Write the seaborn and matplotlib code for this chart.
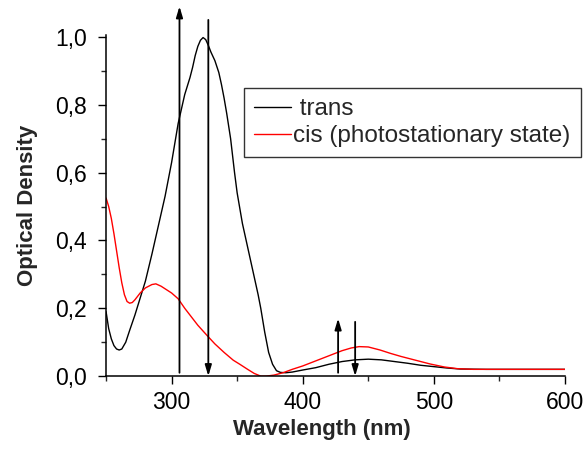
import matplotlib
matplotlib.use("Agg")
import matplotlib.pyplot as plt
import seaborn as sns
import pandas as pd
from matplotlib.ticker import MultipleLocator, FuncFormatter

trans_wl = [250, 252, 254, 256, 258, 260, 262, 265, 268, 272, 276, 280, 285, 290, 295, 300, 305,
            310, 314, 316, 318, 320, 322, 324, 326, 328, 330, 333, 336, 338, 340, 342, 345, 348,
            350, 354, 358, 362, 366, 368, 371, 374, 377, 380, 383, 387, 392, 400, 410, 420, 430,
            440, 450, 460, 470, 480, 490, 500, 510, 520, 540, 560, 580, 600]
trans_od = [0.19, 0.14, 0.11, 0.09, 0.08, 0.077, 0.08, 0.10, 0.135, 0.18, 0.23, 0.28, 0.36,
            0.445, 0.53, 0.63, 0.745, 0.83, 0.88, 0.91, 0.945, 0.972, 0.99, 0.998, 0.992,
            0.975, 0.955, 0.93, 0.895, 0.86, 0.82, 0.775, 0.70, 0.60, 0.54, 0.45, 0.38, 0.31,
            0.24, 0.2, 0.13, 0.07, 0.035, 0.016, 0.011, 0.01, 0.012, 0.018, 0.025, 0.035,
            0.043, 0.048, 0.05, 0.048, 0.043, 0.038, 0.032, 0.028, 0.024, 0.021, 0.02, 0.02,
            0.02, 0.02]

cis_wl = [250, 252, 254, 256, 258, 260, 262, 264, 266, 268, 270, 272, 276, 280, 285, 288, 292,
          296, 300, 305, 310, 315, 320, 327, 333, 340, 347, 352, 358, 363, 368, 372, 378, 385,
          392, 400, 410, 420, 430, 437, 443, 450, 459, 467, 475, 485, 497, 508, 518, 530, 560,
          600]
cis_od = [0.525, 0.5, 0.465, 0.42, 0.37, 0.32, 0.275, 0.24, 0.22, 0.215, 0.217, 0.225, 0.245,
          0.26, 0.27, 0.272, 0.265, 0.255, 0.245, 0.228, 0.2, 0.175, 0.15, 0.12, 0.095, 0.07,
          0.047, 0.035, 0.02, 0.008, 0.0, 0.0, 0.003, 0.01, 0.02, 0.03, 0.045, 0.06, 0.075,
          0.083, 0.087, 0.086, 0.077, 0.067, 0.058, 0.048, 0.036, 0.027, 0.022, 0.02, 0.02,
          0.02]

series_labels = [" trans", "cis (photostationary state)"]

# annotation arrows (wavelength, start OD, end OD)
arrow_wl = [306, 328, 427, 440]
arrow_from = [0.01, 1.05, 0.01, 0.16]
arrow_to = [1.09, 0.0, 0.17, 0.0]

x_ticks = [300, 400, 500, 600]
y_ticks = [0.0, 0.2, 0.4, 0.6, 0.8, 1.0]

sns.set_style("ticks")
plt.rcParams["font.family"] = ["Liberation Sans", "DejaVu Sans"]

df = pd.concat([
    pd.DataFrame({"wl": trans_wl, "od": trans_od, "series": series_labels[0]}),
    pd.DataFrame({"wl": cis_wl, "od": cis_od, "series": series_labels[1]}),
])

fig = plt.figure(figsize=(5.86, 4.51), dpi=100)
ax = fig.add_axes([0.181, 0.166, 0.783, 0.756])
sns.lineplot(data=df, x="wl", y="od", hue="series", sort=False,
             palette={series_labels[0]: "black", series_labels[1]: "#ff0000"},
             linewidth=1.0, ax=ax, estimator=None)

for xw, y0, y1 in zip(arrow_wl, arrow_from, arrow_to):
    ax.annotate("", xy=(xw, y1), xytext=(xw, y0), annotation_clip=False,
                arrowprops=dict(arrowstyle="-|>,head_length=0.5,head_width=0.15",
                                color="black", lw=1.3, shrinkA=0, shrinkB=0,
                                mutation_scale=13))

ax.set_xlim(250, 600)
ax.set_ylim(0, 1.005)
ax.xaxis.set_minor_locator(MultipleLocator(50))
ax.yaxis.set_minor_locator(MultipleLocator(0.1))
ax.set_xticks(x_ticks)
ax.set_yticks(y_ticks)
ax.yaxis.set_major_formatter(FuncFormatter(lambda v, p: f"{v:.1f}".replace(".", ",")))
ax.tick_params(axis="x", which="major", pad=5)
ax.tick_params(axis="y", which="major", pad=8)
ax.tick_params(axis="both", which="major", direction="out", length=6, width=1,
               labelsize=16.5, colors="black")
ax.tick_params(axis="both", which="minor", direction="out", length=3.5, width=1)
for s in ["left", "bottom"]:
    ax.spines[s].set_linewidth(1.1)
    ax.spines[s].set_color("black")
sns.despine(ax=ax)

ax.set_xlabel("Wavelength (nm)", fontsize=16, fontweight="bold", labelpad=6)
ax.set_ylabel("Optical Density", fontsize=16, fontweight="bold", labelpad=12)
ax.xaxis.set_label_coords(0.47, -0.125)

leg = ax.legend(loc="upper left", bbox_to_anchor=(0.3007, 0.8446), frameon=True,
                fontsize=17.5, handlelength=1.5, handletextpad=0.1, borderpad=0.42,
                labelspacing=0.2, fancybox=False, borderaxespad=0)
leg.get_frame().set_edgecolor("black")
leg.get_frame().set_linewidth(1.0)
for h in leg.get_lines():
    h.set_linewidth(1.0)

fig.savefig("out.png", dpi=100)
